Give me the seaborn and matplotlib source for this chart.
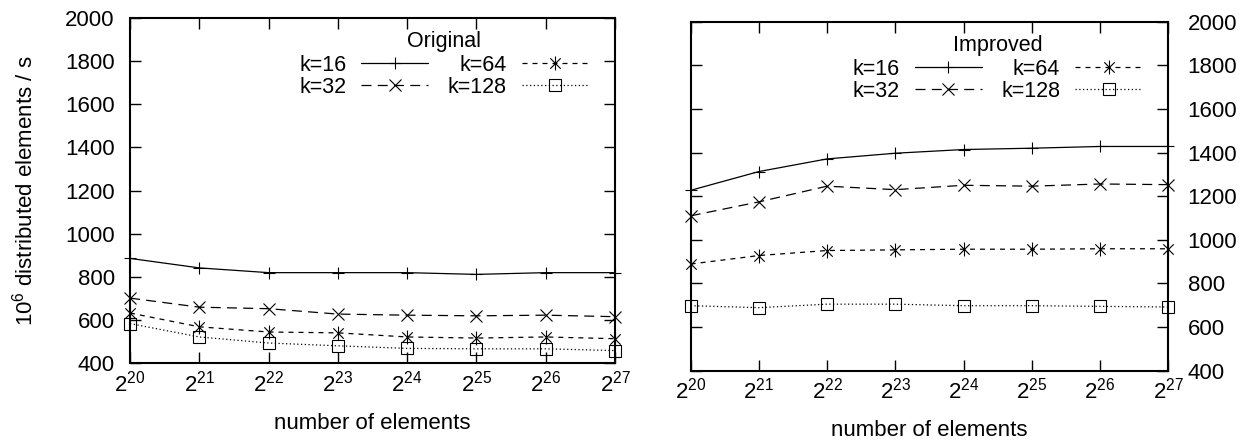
import numpy as np
import pandas as pd
import matplotlib
matplotlib.use("Agg")
import matplotlib.pyplot as plt
from matplotlib.path import Path
from matplotlib.ticker import FixedLocator, NullLocator
import seaborn as sns

# Input sizes as powers of two
exponents = [20, 21, 22, 23, 24, 25, 26, 27]
bucket_labels = ["k=16", "k=32", "k=64", "k=128"]

# Throughput (10^6 distributed elements / s), original implementation
orig_k16 = [886, 842, 820, 820, 820, 812, 820, 820]
orig_k32 = [702, 660, 653, 628, 623, 620, 623, 616]
orig_k64 = [633, 569, 545, 541, 522, 517, 522, 514]
orig_k128 = [584, 522, 494, 481, 469, 467, 467, 459]

# Throughput (10^6 distributed elements / s), improved implementation
impr_k16 = [1227, 1313, 1371, 1397, 1414, 1420, 1428, 1428]
impr_k32 = [1110, 1174, 1246, 1230, 1250, 1246, 1256, 1253]
impr_k64 = [889, 928, 951, 954, 957, 957, 959, 959]
impr_k128 = [698, 689, 705, 705, 698, 698, 695, 692]

y_ticks = [400, 600, 800, 1000, 1200, 1400, 1600, 1800, 2000]

sns.set_theme(style="white")
plt.rcParams["font.family"] = ["Liberation Sans", "DejaVu Sans"]
plt.rcParams["mathtext.fontset"] = "custom"
plt.rcParams["mathtext.rm"] = "Liberation Sans"
plt.rcParams["mathtext.it"] = "Liberation Sans"
for key in ["text.color", "axes.labelcolor", "xtick.color", "ytick.color",
            "axes.edgecolor"]:
    plt.rcParams[key] = "black"

FS = 16
LEG_FS = 15.5

# asterisk: a vertical bar crossed by an X
asterisk = Path(
    [(0, -1), (0, 1), (-0.75, -0.75), (0.75, 0.75), (-0.75, 0.75), (0.75, -0.75)],
    [Path.MOVETO, Path.LINETO, Path.MOVETO, Path.LINETO, Path.MOVETO, Path.LINETO],
)

styles = {
    "k=16": dict(marker="+", ls="-", ms=9),
    "k=32": dict(marker="x", ls=(0, (8, 5)), ms=8),
    "k=64": dict(marker=asterisk, ls=(0, (4, 4)), ms=10),
    "k=128": dict(marker="s", ls=(0, (1, 2)), ms=9),
}


def draw_panel(ax, series, title, right_labels):
    x = [2 ** e for e in exponents]
    for lab, vals in zip(bucket_labels, series):
        df = pd.DataFrame({"n": x, "rate": vals})
        st = styles[lab]
        sns.lineplot(data=df, x="n", y="rate", ax=ax, color="black", lw=0.9,
                     linestyle=st["ls"], marker=st["marker"], markersize=st["ms"],
                     markeredgewidth=0.8, markerfacecolor="none",
                     markeredgecolor="black", label=lab, clip_on=False)
    ax.set_xscale("log", base=2)
    ax.set_xlim(2 ** 20, 2 ** 27)
    ax.set_ylim(400, 2000)
    ax.xaxis.set_major_locator(FixedLocator([2 ** e for e in exponents]))
    ax.xaxis.set_minor_locator(NullLocator())
    ax.set_xticklabels([r"$\mathregular{2^{%d}}$" % e for e in exponents], fontsize=18)
    ax.set_yticks(y_ticks)
    ax.tick_params(axis="both", direction="in", length=8, width=1.0, colors="black",
                   top=True, right=True, left=True, bottom=True, labelsize=FS)
    ax.tick_params(axis="x", pad=5)
    if right_labels:
        ax.tick_params(axis="y", labelleft=False, labelright=True, pad=14)
        ax.set_ylabel("")
    else:
        ax.tick_params(axis="y", pad=11)
        ax.set_ylabel(r"$\mathregular{10^6}$ distributed elements / s",
                      fontsize=FS, labelpad=20, color="black")
    ax.set_xlabel("number of elements", fontsize=FS, labelpad=12, color="black")
    for sp in ax.spines.values():
        sp.set_color("black")
        sp.set_linewidth(1.5)
    leg = ax.legend(ncol=2, title=title, markerfirst=False, frameon=False,
                    loc="upper right", bbox_to_anchor=(0.945, 0.962), fontsize=LEG_FS,
                    title_fontsize=LEG_FS, handlelength=3.1, handletextpad=0.7,
                    columnspacing=0.9, labelspacing=0.05, borderpad=0.0,
                    borderaxespad=0.0, labelcolor="black")
    leg.get_title().set_color("black")
    leg._legend_box.align = "center"
    leg._legend_box.sep = 2


fig = plt.figure(figsize=(12.59, 4.41), dpi=100)
ax1 = fig.add_axes([0.1033, 0.1762, 0.3852, 0.7830])
ax2 = fig.add_axes([0.5486, 0.1594, 0.3793, 0.7914])

draw_panel(ax1, [orig_k16, orig_k32, orig_k64, orig_k128], "Original", False)
draw_panel(ax2, [impr_k16, impr_k32, impr_k64, impr_k128], "Improved", True)

fig.savefig("out.png", dpi=100, facecolor="white")
